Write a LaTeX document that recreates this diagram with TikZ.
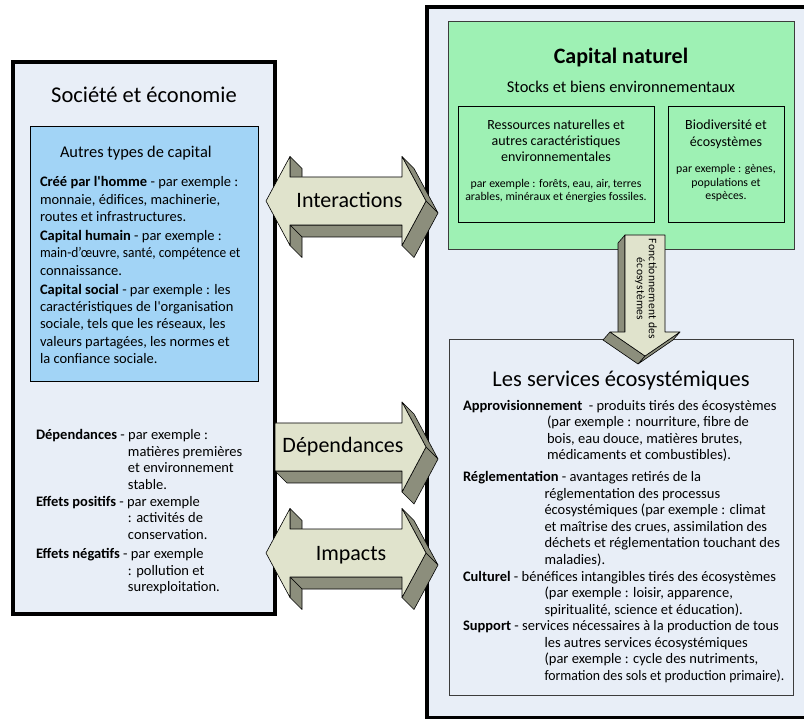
\documentclass[tikz,border=0pt]{standalone}
\usepackage{fontspec}
\usepackage{graphicx}
\setmainfont{Carlito}
\definecolor{panelbg}{RGB}{232,238,247}
\definecolor{capblue}{RGB}{162,212,246}
\definecolor{capgreen}{RGB}{158,241,180}
\definecolor{arrowfront}{RGB}{224,227,204}
\definecolor{arrowside}{RGB}{140,142,124}
\definecolor{boxline}{RGB}{60,60,60}
\newcommand\fsz[2]{\fontsize{#1}{#2}\selectfont}
% a line set slightly narrower so that it keeps inside its frame
\newcommand\narrow[2]{\scalebox{#1}[1]{#2}}
% side face of an extruded arrow: edge (#1)--(#2) pushed back by (#3,#4)
\newcommand\extrudeface[4]{%
  \draw[arrside] (#1) -- (#2) -- ([shift={(#3,#4)}]#2) -- ([shift={(#3,#4)}]#1) -- cycle;}
% two-headed 3D arrow centred on height #2, corner names prefixed by #1
\newcommand\doublearrow[2]{%
  \coordinate (#1-1) at (266,#2);
  \coordinate (#1-2) at (290,#2-44.5);
  \coordinate (#1-3) at (290,#2-24);
  \coordinate (#1-4) at (402,#2-24);
  \coordinate (#1-5) at (402,#2-44.5);
  \coordinate (#1-6) at (426,#2);
  \coordinate (#1-7) at (402,#2+44.5);
  \coordinate (#1-8) at (402,#2+24);
  \coordinate (#1-9) at (290,#2+24);
  \coordinate (#1-10) at (290,#2+44.5);
  \extrudeface{#1-2}{#1-3}{12}{12}
  \extrudeface{#1-8}{#1-9}{12}{12}
  \extrudeface{#1-9}{#1-10}{12}{12}
  \extrudeface{#1-5}{#1-6}{12}{12}
  \extrudeface{#1-6}{#1-7}{12}{12}
  \draw[arrface] (#1-1) -- (#1-2) -- (#1-3) -- (#1-4) -- (#1-5) -- (#1-6)
    -- (#1-7) -- (#1-8) -- (#1-9) -- (#1-10) -- cycle;}
\begin{document}
% multi-line text nodes are placed by the baseline of their last line
\begin{tikzpicture}[x=1pt,y=-1pt,
  outerbox/.style={draw=black,line width=4pt,fill=panelbg},
  capbox/.style={draw=black,line width=0.9pt},
  arrface/.style={fill=arrowfront,draw=black,line width=0.6pt,line join=round},
  arrside/.style={fill=arrowside,draw=black,line width=0.6pt,line join=round},
  txt/.style={inner sep=0pt,outer sep=0pt,align=left,anchor=base west},
  ctxt/.style={inner sep=0pt,outer sep=0pt,align=center,anchor=base},
  body/.style={font=\fsz{14.5}{17.3}},
  svc/.style={font=\fsz{14.5}{16.5}},
  small/.style={font=\fsz{11.8}{13.5}},
  mid/.style={font=\fsz{14}{16.3}},
  big/.style={font=\fsz{22.5}{26}},
  arrlabel/.style={font=\fsz{22}{26}}]
\useasboundingbox (0,0) rectangle (804,719);

% ---------- society and economy ----------
\draw[outerbox] (13,62) rectangle (275,614);
\node[ctxt,big] (soctitle) at (144,102.5) {Société et économie};
\draw[capbox,fill=capblue] (30,126) rectangle (258,381);
\node[txt,font=\fsz{16.4}{19}] (othertitle) at (60,158) {Autres types de capital};
\node[txt,body] (madecap) at (40,221.6) {\textbf{Créé par l\textquotesingle homme} - par exemple :\\monnaie, édifices, machinerie,\\routes et infrastructures.};
\node[txt,body] (humancap) at (40,275.2) {\textbf{Capital humain} - par exemple :\\\narrow{0.925}{main-d’œuvre, santé, compétence et}\\connaissance.};
\node[txt,body] (socialcap) at (40,363.4) {\textbf{Capital social} - par exemple : les\\caractéristiques de l\textquotesingle organisation\\sociale, tels que les réseaux, les\\valeurs partagées, les normes et\\la confiance sociale.};
\node[txt,font=\fsz{14.5}{16.7}] (depend) at (36,489.4) {\textbf{Dépendances} - par exemple :\\\hspace*{92pt}matières premières\\\hspace*{92pt}et environnement\\\hspace*{92pt}stable.};
\node[txt,font=\fsz{14.5}{16.7}] (posfx) at (36,539.4) {\textbf{Effets positifs} - par exemple\\\hspace*{92pt}: activités de\\\hspace*{92pt}conservation.};
\node[txt,font=\fsz{14.5}{16.7}] (negfx) at (36,591.7) {\textbf{Effets négatifs} - par exemple\\\hspace*{92pt}: pollution et\\\hspace*{92pt}surexploitation.};

% ---------- natural capital and services ----------
\draw[outerbox] (427,7) rectangle (812,717.5);
\draw[draw=boxline,line width=0.9pt,fill=capgreen] (448,21) rectangle (794,249);
\node[ctxt,font=\bfseries\fsz{22}{26}] (nattitle) at (621,64) {Capital naturel};
\node[ctxt,font=\fsz{16.4}{19}] (stocks) at (621,92.5) {Stocks et biens environnementaux};
\draw[capbox] (458,106) rectangle (654,222);
\draw[capbox] (668,106) rectangle (784,222);
\node[ctxt,mid] (resources) at (556,161.9) {Ressources naturelles et\\autres caractéristiques\\environnementales};
\node[ctxt,small] (resex) at (556,200.8) {par exemple : forêts, eau, air, terres\\arables, minéraux et énergies fossiles.};
\node[ctxt,mid] (biodiv) at (726,146.3) {Biodiversité et\\écosystèmes};
\node[ctxt,small] (biodivex) at (726,199.7) {par exemple : gènes,\\populations et\\espèces.};

\draw[draw=boxline,line width=0.9pt,fill=panelbg] (449,339) rectangle (793,695);
\node[ctxt,big] (svctitle) at (621,387) {Les services écosystémiques};
\node[txt,svc] (provision) at (463,460) {\textbf{Approvisionnement}\ \ - produits tirés des écosystèmes\\\hspace*{84pt}(par exemple : nourriture, fibre de\\\hspace*{84pt}bois, eau douce, matières brutes,\\\hspace*{84pt}médicaments et combustibles).};
\node[txt,svc] (regulation) at (463,564) {\textbf{Réglementation} - avantages retirés de la\\\hspace*{81.5pt}réglementation des processus\\\hspace*{81.5pt}écosystémiques (par exemple : climat\\\hspace*{81.5pt}et maîtrise des crues, assimilation des\\\hspace*{81.5pt}déchets et réglementation touchant des\\\hspace*{81.5pt}maladies).};
\node[txt,svc] (cultural) at (463,614) {\textbf{Culturel} - bénéfices intangibles tirés des écosystèmes\\\hspace*{81.5pt}(par exemple : loisir, apparence,\\\hspace*{81.5pt}spiritualité, science et éducation).};
\node[txt,svc] (support) at (463,680) {\textbf{Support} - services nécessaires à la production de tous\\\hspace*{81.5pt}les autres services écosystémiques\\\hspace*{81.5pt}(par exemple : cycle des nutriments,\\\hspace*{81.5pt}\narrow{0.95}{formation des sols et production primaire).}};

% ---------- ecosystem functioning arrow ----------
\coordinate (f1) at (625,235);
\coordinate (f2) at (665,235);
\coordinate (f3) at (665,332);
\coordinate (f4) at (680,332);
\coordinate (f5) at (645,356);
\coordinate (f6) at (610,332);
\coordinate (f7) at (625,332);
\extrudeface{f7}{f1}{-7}{8}
\extrudeface{f4}{f5}{-7}{8}
\extrudeface{f5}{f6}{-7}{8}
\draw[arrface] (f1) -- (f2) -- (f3) -- (f4) -- (f5) -- (f6) -- (f7) -- cycle;
\node[inner sep=0pt,align=center,rotate=-90,
  font=\fsz{11.5}{12}\addfontfeature{LetterSpace=2.5}] (functioning) at (646,289)
  {Fonctionnement des\\écosystèmes};

% ---------- interaction arrows ----------
\doublearrow{inter}{201}
\node[ctxt,arrlabel] (interlabel) at (349.5,208) {Interactions};

\coordinate (d1) at (275,423);
\coordinate (d2) at (402,423);
\coordinate (d3) at (402,402);
\coordinate (d4) at (426,447);
\coordinate (d5) at (402,492);
\coordinate (d6) at (402,471);
\coordinate (d7) at (275,471);
\extrudeface{d6}{d7}{12}{12}
\extrudeface{d3}{d4}{12}{12}
\extrudeface{d4}{d5}{12}{12}
\draw[arrface] (d1) -- (d2) -- (d3) -- (d4) -- (d5) -- (d6) -- (d7) -- cycle;
\node[ctxt,arrlabel] (deplabel) at (343,453) {Dépendances};

\doublearrow{impact}{553}
\node[ctxt,arrlabel] (implabel) at (351,560) {Impacts};
\end{tikzpicture}
\end{document}
